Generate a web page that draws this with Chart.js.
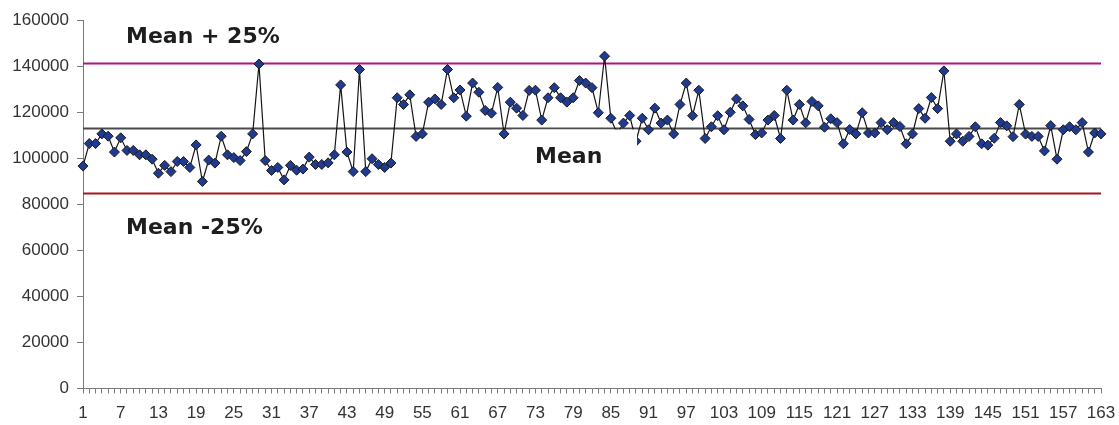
<!DOCTYPE html>
<html>
<head>
<meta charset="utf-8">
<title>Mean ± 25% control chart</title>
<script src="https://cdn.jsdelivr.net/npm/chart.js@4/dist/chart.umd.min.js"></script>
<style>
  html, body { margin: 0; padding: 0; background: #ffffff; }
  #wrap { width: 1119px; height: 425px; }
</style>
</head>
<body>
<div id="wrap"><canvas id="chart" width="1119" height="425"></canvas></div>
<script>
// Sample numbers along the x axis
const categories = [
  1,2,3,4,5,6,7,8,9,10,11,12,13,14,15,16,17,18,19,20,
  21,22,23,24,25,26,27,28,29,30,31,32,33,34,35,36,37,38,39,40,
  41,42,43,44,45,46,47,48,49,50,51,52,53,54,55,56,57,58,59,60,
  61,62,63,64,65,66,67,68,69,70,71,72,73,74,75,76,77,78,79,80,
  81,82,83,84,85,86,87,88,89,90,91,92,93,94,95,96,97,98,99,100,
  101,102,103,104,105,106,107,108,109,110,111,112,113,114,115,116,117,118,119,120,
  121,122,123,124,125,126,127,128,129,130,131,132,133,134,135,136,137,138,139,140,
  141,142,143,144,145,146,147,148,149,150,151,152,153,154,155,156,157,158,159,160,
  161,162,163
];

// Measured value for each sample
const values = [
  96700,106500,106500,110700,109700,102800,109000,103500,103500,101600,
  101600,99700,93600,97000,94300,98700,98700,96100,105900,90000,
  99300,98000,109700,101600,100400,99100,103000,110700,141100,99100,
  94800,96100,90700,97000,94900,95400,100600,97400,97400,98100,
  101600,132000,102800,94300,138700,94300,99900,97400,96100,98000,
  126400,123500,127700,109600,110700,124500,125900,123500,138700,126400,
  129800,118400,132800,128800,120900,119700,130900,110700,124500,121900,
  118700,129600,129700,116700,126400,130800,126400,124500,126400,133900,
  132800,130800,119900,144500,117500,110700,115400,118700,107500,117500,
  112500,121900,115400,116700,110700,123500,132800,118600,129700,108700,
  113800,118600,112500,120100,125900,122900,117000,110400,111100,116700,
  118700,108700,129700,116700,123500,115500,124800,122900,113600,117300,
  115600,106400,112600,110700,119900,111100,111100,115600,112500,115600,
  113900,106400,110700,121700,117500,126500,121700,138100,107500,110700,
  107500,109600,113800,106400,105800,108800,115600,114200,109500,123500,
  110600,109600,109600,103300,114300,99700,112500,113800,112500,115600,
  102800,111100,110700
];

// Category labels printed under the axis
const xTickLabels = ['1','7','13','19','25','31','37','43','49','55','61','67','73','79','85',
  '91','97','103','109','115','121','127','133','139','145','151','157','163'];

// Value axis ticks
const yTicks = [0, 20000, 40000, 60000, 80000, 100000, 120000, 140000, 160000];

// Reference levels
const meanValue = 113300;
const upperValue = 141625;   // mean + 25%
const lowerValue = 84975;    // mean - 25%

const TEXT_FONT = 'bold 22px "DejaVu Sans", Verdana, sans-serif';

// Horizontal reference lines, drawn underneath the series
const referenceLines = {
  id: 'referenceLines',
  beforeDatasetsDraw(chart) {
    const { ctx, chartArea } = chart;
    const y = chart.scales.y;
    const draw = (v, color, width) => {
      const py = Math.round(y.getPixelForValue(v)) + 0.5;
      ctx.save();
      ctx.strokeStyle = color;
      ctx.lineWidth = width;
      ctx.beginPath();
      ctx.moveTo(chartArea.left, py);
      ctx.lineTo(chartArea.right, py);
      ctx.stroke();
      ctx.restore();
    };
    draw(upperValue, '#B0127F', 2);
    draw(lowerValue, '#A8141C', 2);
    draw(meanValue, '#4A4A4A', 2);
  }
};

// Text annotations; the "Mean" caption sits on a white box
const annotations = {
  id: 'annotations',
  afterDatasetsDraw(chart) {
    const { ctx } = chart;
    const y = chart.scales.y;
    const meanPx = y.getPixelForValue(meanValue);
    ctx.save();
    ctx.fillStyle = '#ffffff';
    ctx.fillRect(512, meanPx + 1.6, 125, 46);
    ctx.fillStyle = '#1E1E1E';
    ctx.font = TEXT_FONT;
    ctx.textBaseline = 'alphabetic';
    ctx.textAlign = 'left';
    ctx.fillText('Mean + 25%', 126, 43);
    ctx.fillText('Mean', 535, 162.5);
    ctx.fillText('Mean -25%', 126, 234);
    ctx.restore();
  }
};

new Chart(document.getElementById('chart'), {
  type: 'line',
  data: {
    labels: categories,
    datasets: [{
      data: values,
      borderColor: '#151515',
      borderWidth: 1.2,
      tension: 0,
      fill: false,
      clip: false,
      pointStyle: 'rectRot',
      pointRadius: 5,
      pointBackgroundColor: '#1F3A8F',
      pointBorderColor: '#1A1A1A',
      pointBorderWidth: 1
    }]
  },
  options: {
    responsive: false,
    animation: false,
    events: [],
    layout: { autoPadding: false, padding: { top: 20.5, right: 18, bottom: 0, left: 0 } },
    plugins: { legend: { display: false }, tooltip: { enabled: false } },
    scales: {
      x: {
        offset: false,
        border: { color: '#7A7A7A', width: 1 },
        grid: { display: true, drawOnChartArea: false, drawTicks: true, tickLength: 5, color: '#7A7A7A' },
        ticks: {
          autoSkip: false,
          maxRotation: 0,
          minRotation: 0,
          padding: 10,
          color: '#333333',
          font: { family: '"Liberation Sans", Arial, sans-serif', size: 17 },
          callback(value, index) {
            const lab = String(categories[index]);
            return xTickLabels.includes(lab) ? lab : '';
          }
        },
        afterFit(scale) {
          scale.height = 36.5;
          scale.paddingLeft = 0;
          scale.paddingRight = 0;
        }
      },
      y: {
        min: yTicks[0],
        max: yTicks[yTicks.length - 1],
        border: { color: '#7A7A7A', width: 1 },
        grid: { display: true, drawOnChartArea: false, drawTicks: true, tickLength: 6, color: '#7A7A7A' },
        afterBuildTicks(scale) { scale.ticks = yTicks.map(v => ({ value: v })); },
        ticks: {
          padding: 8,
          color: '#333333',
          font: { family: '"Liberation Sans", Arial, sans-serif', size: 17 },
          callback(value) { return String(value); }
        },
        afterFit(scale) { scale.width = 83; }
      }
    }
  },
  plugins: [referenceLines, annotations]
});
</script>
</body>
</html>
